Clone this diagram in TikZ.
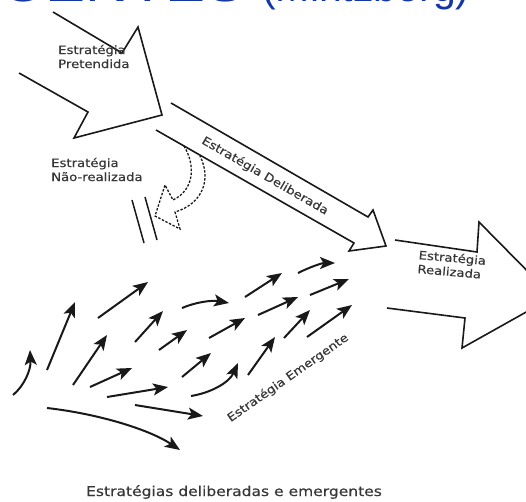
\documentclass[tikz,border=0pt]{standalone}
\usepackage{fontspec}
\setmainfont{DejaVu Sans}
\newfontfamily\lblfont[FakeStretch=1.15,FakeBold=0.3]{DejaVu Sans}
\newfontfamily\titlefont{Liberation Sans}
\usetikzlibrary{arrows.meta}
\definecolor{titleblue}{RGB}{20,55,165}
\definecolor{lblgray}{RGB}{55,55,55}
\definecolor{inkc}{RGB}{25,25,25}
\begin{document}
\begin{tikzpicture}[x=1pt,y=-1pt,
  outline/.style={line width=1.6pt, draw=inkc, line join=miter},
  em/.style={line width=2pt, draw=inkc, -{Stealth[length=15pt,width=12pt,inset=3.5pt]}},
  lbl/.style={font=\lblfont\fontsize{11.5}{14}\selectfont, text=lblgray, inner sep=0pt, align=left},
  dashedarrow/.style={line width=1.3pt, draw=inkc, dash pattern=on 2.4pt off 1.6pt},
  titletxt/.style={text=titleblue, inner sep=0pt}]
\useasboundingbox (0,0) rectangle (526,501);
\clip (0,0) rectangle (526,501);
\fill[white] (0,0) rectangle (526,501);

% title (cut off at the top)
\node[titletxt, anchor=base east, font=\titlefont\fontsize{60}{60}\selectfont] (t1) at (246,1) {GENTES};
\node[titletxt, anchor=base west, font=\titlefont\fontsize{41}{41}\selectfont] (t2) at (262,1) {(Mintzberg)};

% intended strategy
\draw[outline] (53,12) -- (122,53) -- (138,27) -- (162,115) -- (74,138) -- (88,112) -- (19,73);
\node[lbl, anchor=base west] (pret) at (58,68) {Estratégia\\Pretendida};

% deliberate strategy
\draw[outline] (171,103) -- (368,217) -- (373,210) -- (386,246) -- (349,251) -- (354,243) -- (156,130);
\node[lbl, rotate=-30] (delib) at (265,176) {Estratégia Deliberada};

% unrealized strategy
\draw[dashedarrow] (184,146) .. controls (196,166) and (194,190) .. (173,200) -- (165,185) -- (155,216) -- (180,229) -- (175,212) .. controls (202,204) and (212,180) .. (200,156);
\draw[line width=1.5pt, draw=inkc] (132,200) -- (144,243);
\draw[line width=1.5pt, draw=inkc] (145,197) -- (157,240);
\node[lbl, anchor=base west] (nreal) at (51,181) {Estratégia\\Não-realizada};

% realized strategy
\draw[outline] (395,240) -- (477,252) -- (479,222) -- (553,297) -- (462,348) -- (465,318) -- (387,308);
\node[lbl, anchor=base west, rotate=-5] (real) at (417,273) {Estratégia\\Realizada};

% emergent strategy
\draw[em] (13,395) .. controls (24,386) and (31,370) .. (30,350);
\draw[em] (47,370) -- (75,302);
\draw[em] (98,318) -- (148,282);
\draw[em] (73,385) -- (107,335);
\draw[em] (135,342) -- (163,311);
\draw[em] (182,308) .. controls (196,302) and (212,300) .. (229,303);
\draw[em] (245,297) -- (282,273);
\draw[em] (298,273) .. controls (310,267) and (322,263) .. (335,263);
\draw[em] (90,387) -- (132,368);
\draw[em] (159,350) -- (187,330);
\draw[em] (209,338) -- (245,318);
\draw[em] (258,315) -- (298,297);
\draw[em] (310,295) -- (349,279);
\draw[em] (107,397) -- (168,387);
\draw[em] (182,377) -- (211,353);
\draw[em] (191,396) .. controls (210,393) and (229,383) .. (238,363);
\draw[em] (248,375) -- (275,337);
\draw[em] (284,338) -- (310,310);
\draw[em] (307,337) -- (352,305);
\draw[em] (135,405) -- (203,416);
\draw[em] (47,408) .. controls (100,414) and (150,430) .. (180,450);
\node[lbl, rotate=35] (emerg) at (288,378) {Estratégia Emergente};

% caption
\node[lbl, anchor=base, font=\lblfont\fontsize{13.5}{16}\selectfont] (cap) at (234,496) {Estratégias deliberadas e emergentes};
\end{tikzpicture}
\end{document}
